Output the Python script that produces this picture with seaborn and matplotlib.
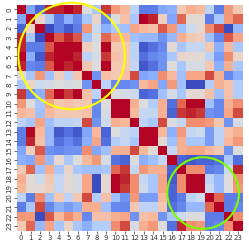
import numpy as np
import pandas as pd
import matplotlib
matplotlib.use('Agg')
import matplotlib.pyplot as plt
from matplotlib.patches import Circle
import seaborn as sns

labels = [str(i) for i in range(24)]

# upper triangle of the correlation matrix, one list per row (after diagonal)
r00 = [-0.5, -0.8, 0.85, 0.85, 0.95, 0.85, 0.0, -0.3, 0.8, 0.45, 0.3, -0.2,
       -0.7, -0.7, -0.5, -0.45, 0.2, 0.35, 0.3, -0.2, -0.7, 0.45, 0.2]
r01 = [0.1, -0.3, -0.7, -0.45, -0.65, -0.3, 0.1, -0.65, 0.0, 0.25, -0.3,
       0.9, 0.85, 0.15, -0.5, 0.65, 0.05, 0.05, -0.7, -0.3, 0.45, 0.65]
r02 = [-0.95, -0.7, -0.85, -0.7, 0.45, -0.1, -0.45, -0.3, -0.35, 0.4, 0.3,
       0.25, 0.7, 0.45, -0.35, -0.1, 0.05, 0.5, 0.75, -0.9, -0.4]
r03 = [0.7, 0.85, 0.7, -0.35, -0.05, 0.65, 0.4, 0.3, -0.35, -0.4, -0.4,
       -0.6, -0.4, 0.35, 0.2, 0.15, -0.35, -0.65, 0.7, 0.4]
r04 = [0.9, 0.95, 0.15, 0.0, 0.9, 0.2, 0.2, -0.2, -0.85, -0.75, -0.65, 0.05,
       -0.3, -0.15, -0.15, 0.2, -0.45, 0.3, -0.3]
r05 = [0.85, -0.2, -0.05, 0.8, 0.25, 0.2, -0.2, -0.75, -0.65, -0.6, -0.3,
       0.1, 0.05, 0.05, -0.2, -0.55, 0.5, 0.1]
r06 = [0.2, 0.0, 0.95, 0.2, 0.2, -0.15, -0.85, -0.75, -0.6, 0.0, -0.3, -0.05,
       -0.05, 0.2, -0.45, 0.35, -0.3]
r07 = [-0.6, 0.25, 0.2, 0.25, 0.75, -0.5, -0.45, 0.5, 0.3, -0.35, 0.4, 0.4,
       0.75, 0.35, -0.65, -0.45]
r08 = [-0.2, -0.65, -0.65, -0.6, 0.3, 0.4, -0.5, 0.45, -0.35, -0.9, -0.9,
       -0.25, 0.35, 0.25, -0.25]
r09 = [0.0, -0.05, -0.1, -0.8, -0.75, -0.35, -0.05, -0.3, 0.05, 0.05, 0.25,
       -0.35, 0.25, -0.25]
r10 = [0.95, 0.35, 0.0, -0.25, 0.35, -0.75, 0.65, 0.95, 0.9, -0.35, -0.65,
       0.35, 0.5]
r11 = [0.3, -0.15, -0.15, 0.35, -0.8, 0.8, 0.85, 0.8, -0.6, -0.65, 0.4, 0.75]
r12 = [-0.2, -0.3, 0.75, 0.0, -0.15, 0.5, 0.5, 0.45, 0.2, -0.6, -0.05]
r13 = [0.9, 0.3, -0.45, 0.45, -0.15, -0.1, -0.55, -0.2, 0.25, 0.35]
r14 = [0.05, -0.35, 0.35, -0.3, -0.3, -0.55, -0.2, 0.3, 0.45]
r15 = [-0.15, 0.35, 0.4, 0.4, 0.3, 0.2, -0.6, 0.0]
r16 = [-0.8, -0.85, -0.8, -0.8, -0.75, -0.3, -0.75]
r17 = [0.5, 0.5, -0.7, -0.65, -0.1, 0.85]
r18 = [0.95, -0.2, -0.4, 0.0, 0.5]
r19 = [-0.1, -0.4, 0.0, 0.45]
r20 = [0.65, -0.7, -0.7]
r21 = [-0.7, -0.65]
r22 = [0.5]

upper_rows = [r00, r01, r02, r03, r04, r05, r06, r07, r08, r09, r10, r11,
              r12, r13, r14, r15, r16, r17, r18, r19, r20, r21, r22]

n = len(labels)
corr = np.eye(n)
for i, row in enumerate(upper_rows):
    corr[i, i + 1:] = row
    corr[i + 1:, i] = row
df = pd.DataFrame(corr, index=labels, columns=labels)

# highlighted blocks (center x, center y, radius, colour) in cell units
highlights = [(5.85, 5.45, 5.65, 'yellow'), (19.8, 20.0, 3.8, 'lawngreen')]

fig = plt.figure(figsize=(2.49, 2.49), dpi=100)
ax = fig.add_axes([16.5 / 249, 1 - 230.7 / 249, 226.2 / 249, 226 / 249])
sns.heatmap(df, cmap='coolwarm', vmin=-0.9, vmax=0.9, cbar=False, ax=ax,
            xticklabels=labels, yticklabels=labels)
ax.tick_params(labelsize=5, length=2, width=0.5, pad=1, colors='#333333')
ax.set_xticklabels(labels, rotation=0)
ax.set_yticklabels(labels, rotation=90, va='center')

for cx, cy, r, col in highlights:
    ax.add_patch(Circle((cx, cy), r, fill=False, edgecolor=col, lw=1.5,
                        clip_on=False))

fig.savefig('out.png', dpi=100)
plt.close()
